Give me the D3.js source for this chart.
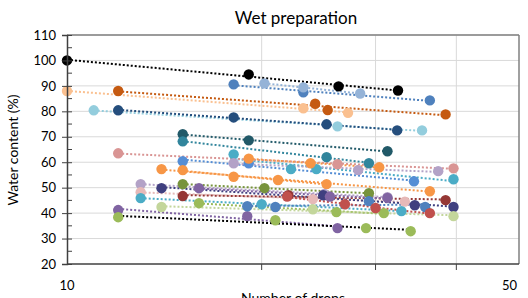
<!DOCTYPE html>
<html>
<head>
<meta charset="utf-8">
<script src="https://cdn.jsdelivr.net/npm/d3@7/dist/d3.min.js"></script>
<style>
  body { margin: 0; background: #fff; }
  svg text { font-family: Lato, "Liberation Sans", sans-serif; fill: #000; }
</style>
</head>
<body>
<div id="chart"></div>
<script>
const width = 528;
const height = 298;

// data: number of drops / water content (%) per sample
const drops = [
  [10, 19.1, 26.3, 32.5],
  [10, 23.2, 27.2],
  [12, 24.2, 25.3, 38.5],
  [18.1, 23.2, 36.4],
  [20.2, 23.2, 28.4],
  [11, 26.2, 35.4],
  [12, 18.1, 25.2, 32.4],
  [15.1, 19.1, 31.3],
  [15.1, 25.2, 29.3],
  [18.1, 22.2, 24.3, 39.6],
  [12, 26.2, 39.6],
  [15.1, 19.1, 34.4],
  [18.1, 28.2, 37.5],
  [19.1, 23.8, 30.4],
  [14, 21.2, 36.4],
  [15.1, 18.1, 25.2],
  [13, 25, 31.3],
  [13, 24, 33.3],
  [13, 20, 32.9],
  [14, 24.9, 34.5, 39.6],
  [15.1, 20.2, 29.3],
  [15.1, 22, 38.5],
  [16, 25.5, 31.3],
  [16, 26.1, 30.9],
  [14, 24, 39.6],
  [12, 19, 26.2],
  [12, 21, 29, 34],
  [19, 21, 29.3, 35.8],
  [21.9, 26.9, 30, 36.4]
];
const water = [
  [100, 94.5, 89.8, 88.2],
  [88, 81.2, 79.4],
  [88, 83, 80.5, 78.8],
  [90.6, 87.5, 84.3],
  [91, 89.4, 87],
  [80.4, 74.1, 72.5],
  [80.4, 77.6, 74.9, 72.5],
  [71, 68.6, 64.3],
  [68.2, 62, 59.6],
  [63.1, 57.3, 57.3, 53.3],
  [63.5, 59.2, 57.6],
  [60.4, 59.6, 52.5],
  [59.6, 56.9, 56.5],
  [61.4, 59.6, 58],
  [57.3, 53, 48.6],
  [56.9, 54.3, 51.4],
  [51.4, 47.5, 46.3],
  [48.2, 45.5, 44.5],
  [45.9, 43.5, 40.8],
  [49.8, 47, 43.1, 42.4],
  [51.4, 49.8, 47.8],
  [46.7, 47, 45.1],
  [49.8, 46.5, 46],
  [43.9, 40.4, 40],
  [42.4, 41.5, 38.8],
  [41.2, 38.8, 34.1],
  [38.4, 37.2, 34.1, 32.9],
  [42.7, 42.4, 44.7, 42.4],
  [46.5, 43.5, 42, 40]
];
const colors = [
  "#000000", "#fac090", "#c55a11", "#4f81bd", "#95b3d7", "#93cddd", "#254e7d",
  "#215968", "#31859c", "#4bacc6", "#d99594", "#558ed5", "#b3a2c7", "#f79646",
  "#f79646", "#f79646", "#b3a2c7", "#e6b9b8", "#4bacc6", "#3f3f7f", "#77933c",
  "#953735", "#8064a2", "#9bbb59", "#c3d69b", "#8064a2", "#9bbb59", "#4f81bd", "#c0504d"
];
const trendColors = colors.map((c, i) => i === 26 ? "#000000" : c);

const yTicks = [20, 30, 40, 50, 60, 70, 80, 90, 100, 110];
const xGrid = [20, 30, 40];
const xLabels = [10, 50];

const svg = d3.select("#chart").append("svg")
  .attr("width", width)
  .attr("height", height);

const plotLeft = 67, plotRight = 519, plotTop = 35, plotBottom = 264;

const x = d3.scaleLog().domain([10, 50]).range([plotLeft, plotRight]);
const y = d3.scaleLinear().domain([20, 110]).range([plotBottom, plotTop]);

// Title
svg.append("text")
  .attr("x", 296)
  .attr("y", 24)
  .attr("text-anchor", "middle")
  .style("font-size", "17px")
  .text("Wet preparation");

// gridlines
svg.append("g").selectAll("line")
  .data(yTicks.slice(1))
  .enter().append("line")
  .attr("x1", plotLeft).attr("x2", plotRight)
  .attr("y1", d => y(d)).attr("y2", d => y(d))
  .attr("stroke", "#d9d9d9").attr("stroke-width", 1);

svg.append("g").selectAll("line")
  .data(xGrid)
  .enter().append("line")
  .attr("x1", d => x(d)).attr("x2", d => x(d))
  .attr("y1", plotTop).attr("y2", plotBottom)
  .attr("stroke", "#d9d9d9").attr("stroke-width", 1);

// frame on top / right
svg.append("line").attr("x1", plotLeft).attr("x2", plotRight).attr("y1", plotTop).attr("y2", plotTop)
  .attr("stroke", "#808080").attr("stroke-width", 1.5);
svg.append("line").attr("x1", plotRight).attr("x2", plotRight).attr("y1", plotTop).attr("y2", plotBottom)
  .attr("stroke", "#808080").attr("stroke-width", 1.5);

// x ticks below the axis
svg.append("g").selectAll("line")
  .data(xGrid)
  .enter().append("line")
  .attr("x1", d => x(d)).attr("x2", d => x(d))
  .attr("y1", plotBottom).attr("y2", plotBottom + 6)
  .attr("stroke", "#404040").attr("stroke-width", 1);

// trend lines (linear in log x)
const series = drops.map((xs, i) => xs.map((d, j) => ({ n: d, w: water[i][j] })));

const trends = series.map(pts => {
  const lx = pts.map(p => Math.log10(p.n));
  const mx = d3.mean(lx), my = d3.mean(pts, p => p.w);
  const sxy = d3.sum(pts, (p, j) => (lx[j] - mx) * (p.w - my));
  const sxx = d3.sum(lx, v => (v - mx) * (v - mx));
  const b = sxx ? sxy / sxx : 0;
  const n0 = d3.min(pts, p => p.n), n1 = d3.max(pts, p => p.n);
  return [
    { n: n0, w: my + b * (Math.log10(n0) - mx) },
    { n: n1, w: my + b * (Math.log10(n1) - mx) }
  ];
});

const line = d3.line().x(d => x(d.n)).y(d => y(d.w));

svg.append("g").selectAll("path")
  .data(trends)
  .enter().append("path")
  .attr("d", line)
  .attr("fill", "none")
  .attr("stroke", (d, i) => trendColors[i])
  .attr("stroke-width", 2)
  .attr("stroke-dasharray", "2,2");

// markers
series.forEach((pts, i) => {
  svg.append("g").selectAll("circle")
    .data(pts)
    .enter().append("circle")
    .attr("cx", d => x(d.n))
    .attr("cy", d => y(d.w))
    .attr("r", 5.2)
    .attr("fill", colors[i]);
});

// y axis
const yAxis = d3.axisLeft(y).tickValues(yTicks).tickSize(5).tickPadding(6);
const gy = svg.append("g")
  .attr("transform", "translate(" + plotLeft + ",0)")
  .call(yAxis);
gy.select(".domain").attr("stroke", "#404040").attr("stroke-width", 1.5);
gy.selectAll(".tick line").attr("x1", -5).attr("x2", 5).attr("stroke", "#404040");
gy.selectAll(".tick text").style("font-size", "13px");

// minor y ticks
svg.append("g").selectAll("line")
  .data(yTicks.slice(0, -1).map(d => d + 5))
  .enter().append("line")
  .attr("x1", plotLeft).attr("x2", plotLeft + 5)
  .attr("y1", d => y(d)).attr("y2", d => y(d))
  .attr("stroke", "#404040");

// x axis line
svg.append("line").attr("x1", plotLeft).attr("x2", plotRight).attr("y1", plotBottom).attr("y2", plotBottom)
  .attr("stroke", "#404040").attr("stroke-width", 1.5);

svg.append("g").selectAll("text")
  .data(xLabels)
  .enter().append("text")
  .attr("x", d => d === 50 ? x(d) - 2 : x(d))
  .attr("y", 290)
  .attr("text-anchor", d => d === 50 ? "end" : "middle")
  .style("font-size", "13px")
  .text(d => d);

// axis titles
svg.append("text")
  .attr("transform", "rotate(-90)")
  .attr("x", -150)
  .attr("y", 18)
  .attr("text-anchor", "middle")
  .style("font-size", "14px")
  .text("Water content (%)");

svg.append("text")
  .attr("x", 293)
  .attr("y", 303)
  .attr("text-anchor", "middle")
  .style("font-size", "14px")
  .text("Number of drops");
</script>
</body>
</html>
